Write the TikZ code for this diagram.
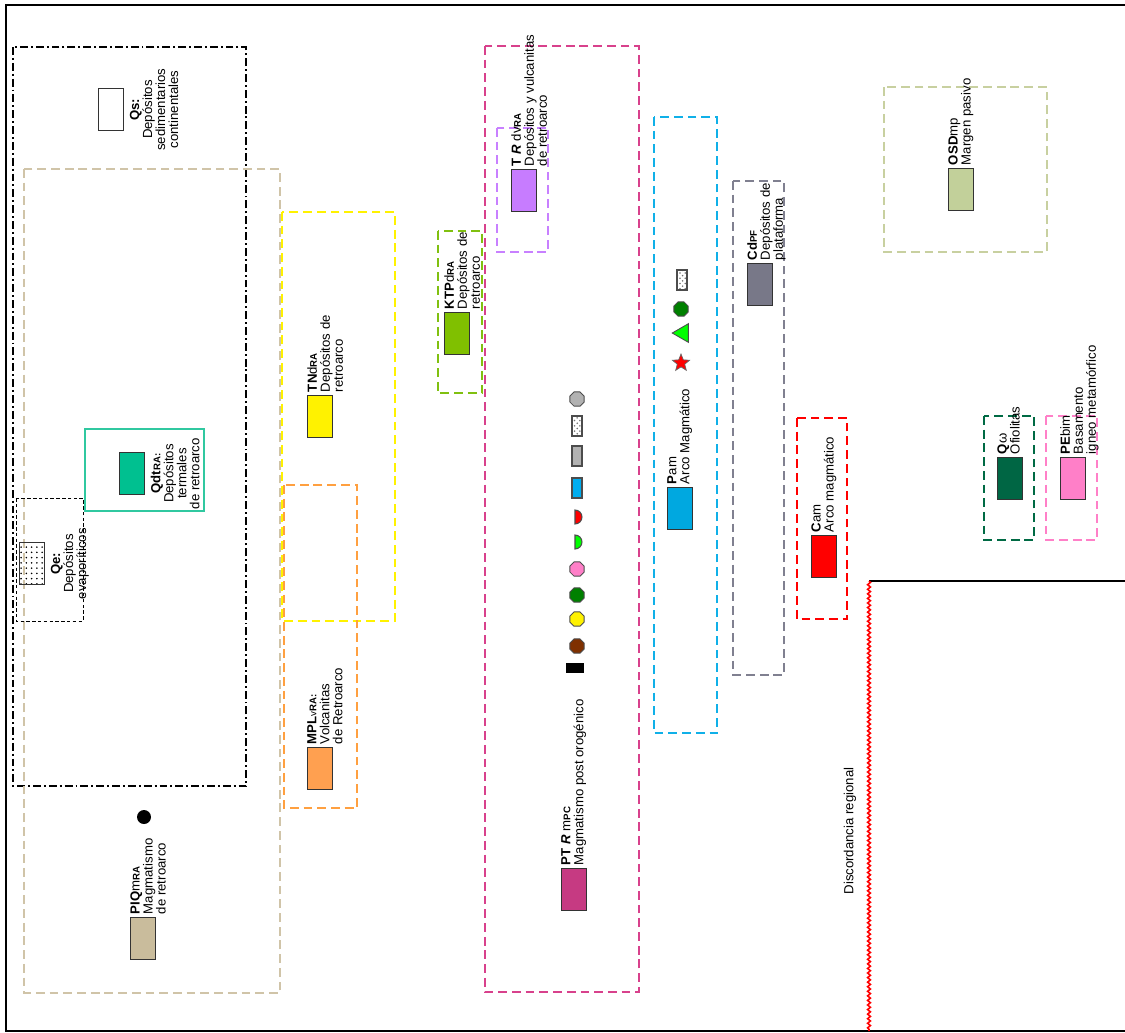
\documentclass[tikz,border=0pt]{standalone}
\usepackage{fontspec}
\setmainfont{Liberation Sans}
\usetikzlibrary{shapes.geometric,patterns,decorations.pathmorphing}
\definecolor{tanbox}{HTML}{D0C4A8}
\definecolor{piqfill}{HTML}{C9BC9C}
\definecolor{tealbox}{HTML}{30C8A0}
\definecolor{qdtfill}{HTML}{00C090}
\definecolor{orangebox}{HTML}{FFA040}
\definecolor{mplfill}{HTML}{FFA050}
\definecolor{limebox}{HTML}{80C010}
\definecolor{ktpfill}{HTML}{80C000}
\definecolor{magbox}{HTML}{D8418C}
\definecolor{ptrfill}{HTML}{C63A82}
\definecolor{purplebox}{HTML}{C880FF}
\definecolor{trfill}{HTML}{C77CFF}
\definecolor{bluebox}{HTML}{10B0E8}
\definecolor{pamfill}{HTML}{00A8E0}
\definecolor{graybox}{HTML}{808090}
\definecolor{cdfill}{HTML}{787888}
\definecolor{olivebox}{HTML}{C8D0A0}
\definecolor{osdfill}{HTML}{C2D09A}
\definecolor{dkgreenbox}{HTML}{006A44}
\definecolor{qwfill}{HTML}{006644}
\definecolor{pinkbox}{HTML}{FF80C8}
\definecolor{pefill}{HTML}{FF7FC8}
\definecolor{brownfill}{HTML}{7F3000}
\newcommand{\lsub}[1]{{\fontsize{5.5}{5.5}\selectfont\bfseries #1}}
\tikzset{
  swatch/.style={draw=black!80, line width=0.7pt, minimum width=0.5cm, minimum height=0.84cm, inner sep=0pt, anchor=north west},
  legtext/.style={rotate=90, inner sep=0pt, align=left, font=\fontsize{7.5}{7.4}\selectfont},
  groupbox/.style={line width=1.4pt, dash pattern=on 5pt off 2.8pt},
  octa/.style={regular polygon, regular polygon sides=8, minimum size=0.31cm, inner sep=0pt, draw=black!70, line width=0.5pt},
  chip/.style={draw=black!70, line width=0.6pt, minimum width=0.2cm, minimum height=0.4cm, inner sep=0pt}
}
\begin{document}
\begin{tikzpicture}[x=0.02cm, y=-0.02cm]
    \useasboundingbox (0,0) rectangle (1125,1032);
    \draw[line width=1.6pt] (1125,5) -- (6,5) -- (6,1031) -- (1125,1031);
    \draw[line width=1.3pt] (869,581) -- (1125,581);
    \draw[red, line width=0.9pt, decorate, decoration={snake, segment length=2.6pt, amplitude=0.8pt}] (869,581) -- (869,1031);

    \draw[groupbox, line width=1.6pt, dash pattern=on 4.5pt off 1.7pt on 1.1pt off 1.7pt] (13,47) rectangle (246,786);
    \draw[groupbox, tanbox] (24,169) rectangle (280,993);
    \draw[black, line width=0.5pt, dash pattern=on 2pt off 1.3pt] (16,498) rectangle (83,621);
    \draw[tealbox, line width=1.4pt] (85,429) rectangle (204,511);
    \draw[groupbox, yellow] (282,212) rectangle (395,621);
    \draw[groupbox, orangebox] (284,485) rectangle (357,808);
    \draw[groupbox, limebox] (438,231) rectangle (482,393);
    \draw[groupbox, magbox] (485,46) rectangle (639,992);
    \draw[groupbox, purplebox] (497,128) rectangle (548,252);
    \draw[groupbox, bluebox] (654,117) rectangle (717,733);
    \draw[groupbox, graybox] (733,181) rectangle (784,675);
    \draw[groupbox, red] (797,418) rectangle (847,619);
    \draw[groupbox, olivebox] (884,87) rectangle (1047,252);
    \draw[groupbox, dkgreenbox] (984,416) rectangle (1034,540);
    \draw[groupbox, pinkbox] (1046,416) rectangle (1097,540);

    \node[swatch, fill=white] (qs) at (98,88) {};
    \node[legtext, align=center, anchor=north] (qstext) at ([xshift=3pt]qs.east) {\textbf{Qs:}\\Depósitos\\sedimentarios\\continentales};
    \node[swatch, pattern=dots] (qe) at (19,542) {};
    \node[legtext, align=center, anchor=north] (qetext) at ([xshift=3pt]qe.east) {\textbf{Qe:}\\Depósitos\\evaporíticos};
    \node[swatch, fill=qdtfill] (qdt) at (119,452) {};
    \node[legtext, align=center, anchor=north] (qdttext) at ([xshift=3pt]qdt.east) {\textbf{Qdt}\lsub{RA:}\\Depósitos\\termales\\de retroarco};
    \node[swatch, fill=piqfill] (piq) at (130,917) {};
    \node[legtext, anchor=north west] (piqtext) at ([yshift=1.5pt]piq.north west) {\textbf{PIQ}m\lsub{RA}\\Magmatismo\\de retroarco};
    \node[circle, fill=black, minimum size=0.28cm, inner sep=0pt] (piqdot) at (144,817) {};
    \node[swatch, fill=yellow] (tn) at (307,395) {};
    \node[legtext, anchor=north west] (tntext) at ([yshift=1.5pt]tn.north west) {\textbf{TN}d\lsub{RA}\\Depósitos de\\retroarco};
    \node[swatch, fill=mplfill] (mpl) at (307,747) {};
    \node[legtext, anchor=north west] (mpltext) at ([yshift=1.5pt]mpl.north west) {\textbf{MPL}{\fontsize{5.5}{5.5}\selectfont v}\lsub{RA:}\\Volcanitas\\de Retroarco};
    \node[swatch, fill=ktpfill] (ktp) at (444,312) {};
    \node[legtext, anchor=north west] (ktptext) at ([yshift=1.5pt]ktp.north west) {\textbf{KTP}d\lsub{RA}\\Depósitos de\\retroarco};
    \node[swatch, fill=trfill] (trdv) at (511,169) {};
    \node[legtext, anchor=north west] (trdvtext) at ([yshift=1.5pt]trdv.north west) {\textbf{T} \textbf{\textit{R}} dv\lsub{RA}\\Depósitos y vulcanitas\\de retroarco};
    \node[swatch, fill=ptrfill] (ptr) at (561,868) {};
    \node[legtext, anchor=north west] (ptrtext) at ([yshift=1.5pt]ptr.north west) {\textbf{PT} \textbf{\textit{R}} m\lsub{PC}\\Magmatismo post orogénico};
    \node[swatch, fill=pamfill] (pam) at (667,487) {};
    \node[legtext, anchor=north west] (pamtext) at ([yshift=1.5pt]pam.north west) {\textbf{P}am\\Arco Magmático};
    \node[swatch, fill=cdfill] (cdpf) at (747,263) {};
    \node[legtext, anchor=north west] (cdpftext) at ([yshift=1.5pt]cdpf.north west) {\textbf{Cd}\lsub{PF}\\Depósitos de\\plataforma};
    \node[swatch, fill=red] (cam) at (811,535) {};
    \node[legtext, anchor=north west] (camtext) at ([yshift=1.5pt]cam.north west) {\textbf{C}am\\Arco magmático};
    \node[swatch, fill=osdfill] (osd) at (948,168) {};
    \node[legtext, anchor=north west] (osdtext) at ([yshift=1.5pt]osd.north west) {\textbf{OSD}mp\\Margen pasivo};
    \node[swatch, fill=qwfill] (qw) at (997,457) {};
    \node[legtext, anchor=north west] (qwtext) at ([yshift=1.5pt]qw.north west) {\textbf{Q}ω\\Ofiolitas};
    \node[swatch, fill=pefill] (pebim) at (1060,457) {};
    \node[legtext, anchor=north west] (pebimtext) at ([yshift=1.5pt]pebim.north west) {\textbf{PE}bim\\Basamento\\igneo metamórfico};

    \node[octa, fill=black!30] (ptr1) at (577,399) {};
    \node[chip, pattern=crosshatch dots, pattern color=black!55] (ptr2) at (577,426) {};
    \node[chip, fill=black!30] (ptr3) at (577,456) {};
    \node[chip, fill=cyan] (ptr4) at (577,488) {};
    \draw[fill=red, draw=black!70, line width=0.6pt] (575,510) arc[start angle=90, end angle=-90, radius=0.14cm] -- cycle;
    \draw[fill=green, draw=black!70, line width=0.6pt] (575,535) arc[start angle=90, end angle=-90, radius=0.14cm] -- cycle;
    \node[octa, fill=pefill] (ptr7) at (577,569) {};
    \node[octa, fill=green!50!black] (ptr8) at (577,595) {};
    \node[octa, fill=yellow] (ptr9) at (577,619) {};
    \node[octa, fill=brownfill] (ptr10) at (577,646) {};
    \node[fill=black, minimum width=0.36cm, minimum height=0.2cm, inner sep=0pt] (ptr11) at (575,668) {};

    \node[chip, pattern=crosshatch dots, pattern color=black!55] (pam1) at (682,280) {};
    \node[octa, fill=green!50!black] (pam2) at (681,309) {};
    \node[regular polygon, regular polygon sides=3, rotate=90, fill=green, draw=black!70, line width=0.5pt, minimum size=0.43cm, inner sep=0pt] (pam3) at (683,333) {};
    \node[star, star points=5, star point ratio=2.3, fill=red, draw=black!60, line width=0.4pt, minimum size=0.36cm, inner sep=0pt] (pam4) at (681,363) {};

    \node[legtext] (disc) at (850,831) {Discordancia regional};
\end{tikzpicture}
\end{document}
